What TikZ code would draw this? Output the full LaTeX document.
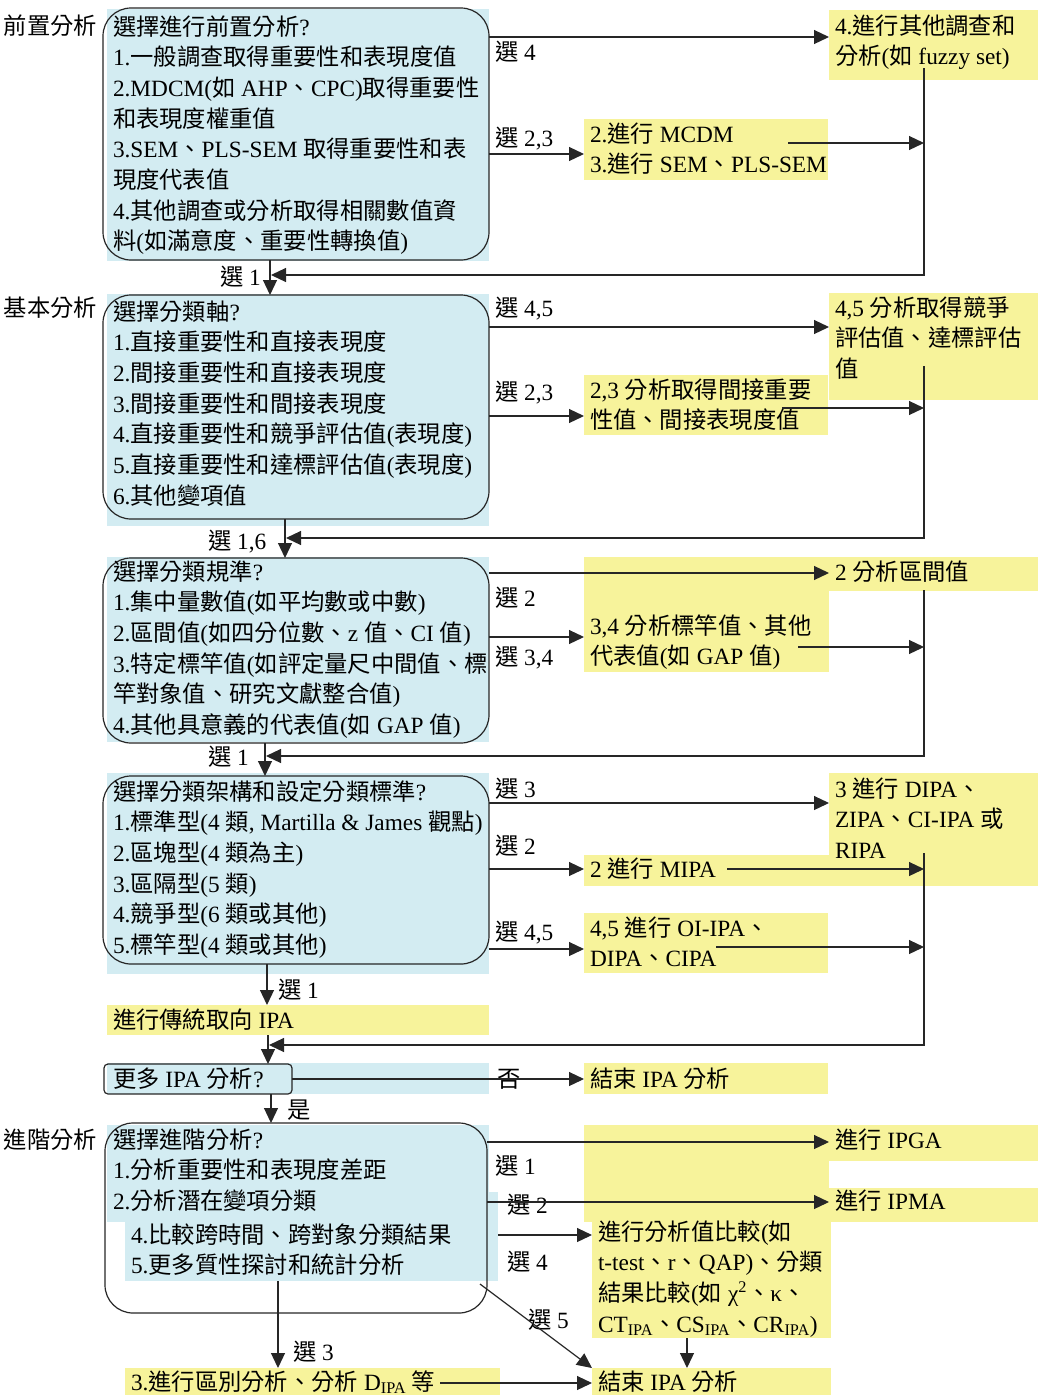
\documentclass[tikz,border=0pt]{standalone}
\usepackage{fontspec}
\setmainfont{Liberation Serif}
\newfontfamily\cjfam{Noto Sans CJK TC}
\usetikzlibrary{arrows.meta}
\XeTeXinterchartokenstate=1
\newXeTeXintercharclass\CJKcls
\makeatletter
\count@="2E80
\loop\XeTeXcharclass\count@=\CJKcls\relax\ifnum\count@<"9FFF\relax\advance\count@\@ne\repeat
\count@="FF00
\loop\XeTeXcharclass\count@=\CJKcls\relax\ifnum\count@<"FFEF\relax\advance\count@\@ne\repeat
\makeatother
\XeTeXinterchartoks 0 \CJKcls={\cjfam}
\XeTeXinterchartoks 4095 \CJKcls={\cjfam}
\XeTeXinterchartoks \CJKcls 0={\rmfamily}
\XeTeXinterchartoks \CJKcls 4095={\rmfamily}
\definecolor{bl}{HTML}{D3ECF2}
\definecolor{yl}{HTML}{F7F39B}
\definecolor{lc}{HTML}{262626}
\tikzset{
 bg/.style={rectangle,inner sep=0pt,outer sep=0pt,anchor=north west,draw=none},
 bluebg/.style={bg,fill=bl},
 yelbg/.style={bg,fill=yl},
 rbox/.style={bg,draw=lc,line width=1.2pt,rounded corners=28pt,fill=none},
 txt/.style={anchor=base west,inner sep=0pt,outer sep=0pt,align=left,font=\fontsize{23.3}{30.7}\selectfont,text=black},
 arr/.style={draw=lc,line width=1.2pt,-{Triangle[length=15pt,width=14pt]}},
}
\begin{document}
\begin{tikzpicture}[x=1pt,y=-1pt]
\useasboundingbox (0,0) rectangle (1045,1395);
% ---------- backgrounds ----------
\node[bluebg,minimum width=382pt,minimum height=252pt] (Abg) at (107,9) {};
\node[bluebg,minimum width=382pt,minimum height=232pt] (Bbg) at (107,294) {};
\node[bluebg,minimum width=382pt,minimum height=185pt] (Cbg) at (107,557) {};
\node[bluebg,minimum width=382pt,minimum height=201pt] (Dbg) at (107,773) {};
\node[bluebg,minimum width=382pt,minimum height=31pt] (Ebg) at (107,1063) {};
\node[bluebg,minimum width=382pt,minimum height=97pt] (Fbg1) at (107,1125) {};
\node[bluebg,minimum width=373pt,minimum height=89pt] (Fbg2) at (125,1192) {};
\node[yelbg,minimum width=209pt,minimum height=70pt] (Y4a) at (829,10) {};
\node[yelbg,minimum width=244pt,minimum height=61pt] (Y23a) at (584,119) {};
\node[yelbg,minimum width=209pt,minimum height=107pt] (Y45b) at (829,293) {};
\node[yelbg,minimum width=244pt,minimum height=60pt] (Y23b) at (584,375) {};
\node[yelbg,minimum width=209pt,minimum height=34pt] (Y2c) at (829,557) {};
\node[yelbg,minimum width=245pt,minimum height=115pt] (Y34c) at (584,557) {};
\node[yelbg,minimum width=209pt,minimum height=113pt] (Y3d) at (829,773) {};
\node[yelbg,minimum width=245pt,minimum height=31pt] (Y2d) at (584,855) {};
\node[yelbg,minimum width=244pt,minimum height=60pt] (Y45d) at (584,913) {};
\node[yelbg,minimum width=382pt,minimum height=30pt] (Ytr) at (107,1005) {};
\node[yelbg,minimum width=244pt,minimum height=31pt] (End1) at (584,1063) {};
\node[yelbg,minimum width=245pt,minimum height=97pt] (Yfb) at (584,1125) {};
\node[yelbg,minimum width=209pt,minimum height=36pt] (IPGA) at (829,1125) {};
\node[yelbg,minimum width=209pt,minimum height=34pt] (IPMA) at (829,1188) {};
\node[yelbg,minimum width=239pt,minimum height=116pt] (Y4f) at (592,1222) {};
\node[yelbg,minimum width=239pt,minimum height=27pt] (End2) at (592,1368) {};
\node[yelbg,minimum width=375pt,minimum height=27pt] (Y3f) at (125,1368) {};
% ---------- outlines ----------
\node[rbox,minimum width=386pt,minimum height=252pt] (A) at (103,8) {};
\node[rbox,minimum width=386pt,minimum height=224pt] (B) at (103,295) {};
\node[rbox,minimum width=386pt,minimum height=185pt] (C) at (103,558) {};
\node[rbox,minimum width=386pt,minimum height=188pt] (D) at (103,776) {};
\node[rbox,rounded corners=4pt,minimum width=188pt,minimum height=30pt] (E) at (104,1064) {};
\node[rbox,minimum width=382pt,minimum height=190pt] (F) at (105,1123) {};
% ---------- side labels ----------
\node[txt] (L1) at (4,34) {前置分析};
\node[txt] (L2) at (4,316) {基本分析};
\node[txt] (L3) at (4,1148) {進階分析};
% ---------- box texts (anchor = baseline of last line) ----------
\node[txt] (At) at (113,249.9) {選擇進行前置分析?\\1.一般調查取得重要性和表現度值\\2.MDCM(如 AHP、CPC)取得重要性\\和表現度權重值\\3.SEM、PLS-SEM 取得重要性和表\\現度代表值\\4.其他調查或分析取得相關數值資\\料(如滿意度、重要性轉換值)};
\node[txt] (Bt) at (113,504.2) {選擇分類軸?\\1.直接重要性和直接表現度\\2.間接重要性和直接表現度\\3.間接重要性和間接表現度\\4.直接重要性和競爭評估值(表現度)\\5.直接重要性和達標評估值(表現度)\\6.其他變項值};
\node[txt] (Ct) at (113,733.5) {選擇分類規準?\\1.集中量數值(如平均數或中數)\\2.區間值(如四分位數、z 值、CI 值)\\3.特定標竿值(如評定量尺中間值、標\\竿對象值、研究文獻整合值)\\4.其他具意義的代表值(如 GAP 值)};
\node[txt] (Dt) at (113,953.5) {選擇分類架構和設定分類標準?\\1.標準型(4 類, Martilla \& James 觀點)\\2.區塊型(4 類為主)\\3.區隔型(5 類)\\4.競爭型(6 類或其他)\\5.標竿型(4 類或其他)};
\node[txt] (Trt) at (113,1028) {進行傳統取向 IPA};
\node[txt] (Et) at (113,1087) {更多 IPA 分析?};
\node[txt] (Ft1) at (113,1209.4) {選擇進階分析?\\1.分析重要性和表現度差距\\2.分析潛在變項分類};
\node[txt] (Ft2) at (131,1273.7) {4.比較跨時間、跨對象分類結果\\5.更多質性探討和統計分析};
% ---------- yellow texts ----------
\node[txt] (Y4at) at (835,64.7) {4.進行其他調查和\\分析(如 fuzzy set)};
\node[txt] (Y23at) at (590,172.7) {2.進行 MCDM\\3.進行 SEM、PLS-SEM};
\node[txt] (Y45bt) at (835,377.4) {4,5 分析取得競爭\\評估值、達標評估\\值};
\node[txt] (Y23bt) at (590,428.7) {2,3 分析取得間接重要\\性值、間接表現度值};
\node[txt] (Y2ct) at (835,580) {2 分析區間值};
\node[txt] (Y34ct) at (590,664.7) {3,4 分析標竿值、其他\\代表值(如 GAP 值)};
\node[txt] (Y3dt) at (835,858.4) {3 進行 DIPA、\\ZIPA、CI-IPA 或\\RIPA};
\node[txt] (Y2dt) at (590,877) {2 進行 MIPA};
\node[txt] (Y45dt) at (590,966.7) {4,5 進行 OI-IPA、\\DIPA、CIPA};
\node[txt] (End1t) at (590,1087) {結束 IPA 分析};
\node[txt] (IPGAt) at (835,1148) {進行 IPGA};
\node[txt] (IPMAt) at (835,1209) {進行 IPMA};
\node[txt] (Y4ft) at (598,1332.1) {進行分析值比較(如\\t-test、r、QAP)、分類\\結果比較(如 χ\textsuperscript{2}、κ、\\CT\textsubscript{IPA}、CS\textsubscript{IPA}、CR\textsubscript{IPA})};
\node[txt] (End2t) at (598,1390) {結束 IPA 分析};
\node[txt] (Y3ft) at (131,1390) {3.進行區別分析、分析 D\textsubscript{IPA} 等};
% ---------- connector labels ----------
\node[txt] (sA4) at (495,60) {選 4};
\node[txt] (sA23) at (495,146) {選 2,3};
\node[txt] (sA1) at (220,285) {選 1};
\node[txt] (sB45) at (495,316) {選 4,5};
\node[txt] (sB23) at (495,400) {選 2,3};
\node[txt] (sB16) at (208,549) {選 1,6};
\node[txt] (sC2) at (495,606) {選 2};
\node[txt] (sC34) at (495,665) {選 3,4};
\node[txt] (sC1) at (208,765) {選 1};
\node[txt] (sD3) at (495,797) {選 3};
\node[txt] (sD2) at (495,854) {選 2};
\node[txt] (sD45) at (495,940) {選 4,5};
\node[txt] (sD1) at (278,998) {選 1};
\node[txt] (sNo) at (497,1087) {否};
\node[txt] (sYes) at (287,1118) {是};
\node[txt] (sF1) at (495,1174) {選 1};
\node[txt] (sF2) at (507,1213) {選 2};
\node[txt] (sF4) at (507,1270) {選 4};
\node[txt] (sF5) at (528,1328) {選 5};
\node[txt] (sF3) at (293,1360) {選 3};
% ---------- connectors ----------
\coordinate (tA) at (924,68);
\coordinate (jA) at (271,275);
\coordinate (iA) at (788,143);
\draw[arr] (A.east |- 0,37) -- (Y4a.west |- 0,37);
\draw[arr] (A.east |- 0,154) -- (Y23a.west |- 0,154);
\draw[arr] (iA) -- (iA -| tA);
\draw[arr] (tA) |- (jA);
\draw[arr] (A.south -| 270,0) -- (B.north -| 270,0);

\coordinate (tB) at (924,366);
\coordinate (jB) at (286,538);
\coordinate (iB) at (782,408);
\draw[arr] (B.east |- 0,327) -- (Y45b.west |- 0,327);
\draw[arr] (B.east |- 0,416) -- (Y23b.west |- 0,416);
\draw[arr] (iB) -- (iB -| tB);
\draw[arr] (tB) |- (jB);
\draw[arr] (B.south -| 285,0) -- (C.north -| 285,0);

\coordinate (tC) at (924,590);
\coordinate (jC) at (266,756);
\coordinate (iC) at (798,647);
\draw[arr] (C.east |- 0,573) -- (Y2c.west |- 0,573);
\draw[arr] (C.east |- 0,637) -- (Y34c.west |- 0,637);
\draw[arr] (iC) -- (iC -| tC);
\draw[arr] (tC) |- (jC);
\draw[arr] (C.south -| 265,0) -- (D.north -| 265,0);

\coordinate (tD) at (924,853);
\coordinate (jD) at (269,1045);
\coordinate (iD1) at (727,869);
\coordinate (iD2) at (716,947);
\draw[arr] (D.east |- 0,803) -- (Y3d.west |- 0,803);
\draw[arr] (D.east |- 0,869) -- (Y2d.west |- 0,869);
\draw[arr] (D.east |- 0,949) -- (Y45d.west |- 0,949);
\draw[arr] (iD1) -- (iD1 -| tD);
\draw[arr] (iD2) -- (iD2 -| tD);
\draw[arr] (tD) |- (jD);
\draw[arr] (D.south -| 267,0) -- (Ytr.north -| 267,0);
\draw[arr] (Ytr.south -| 268,0) -- (E.north -| 268,0);

\draw[arr] (E.east |- 0,1079) -- (End1.west |- 0,1079);
\draw[arr] (E.south -| 271,0) -- (F.north -| 271,0);

\coordinate (d5) at (480,1284);
\coordinate (i3) at (440,1383);
\draw[arr] (F.east |- 0,1142) -- (IPGA.west |- 0,1142);
\draw[arr] (F.east |- 0,1202) -- (IPMA.west |- 0,1202);
\draw[arr] (Fbg2.east |- 0,1235) -- (Y4f.west |- 0,1235);
\draw[arr] (d5) -- (End2.north west);
\draw[arr] (Y4f.south -| 687,0) -- (End2.north -| 687,0);
\draw[arr] (Fbg2.south -| 278,0) -- (Y3f.north -| 278,0);
\draw[arr] (i3) -- (i3 -| End2.west);
\end{tikzpicture}
\end{document}
